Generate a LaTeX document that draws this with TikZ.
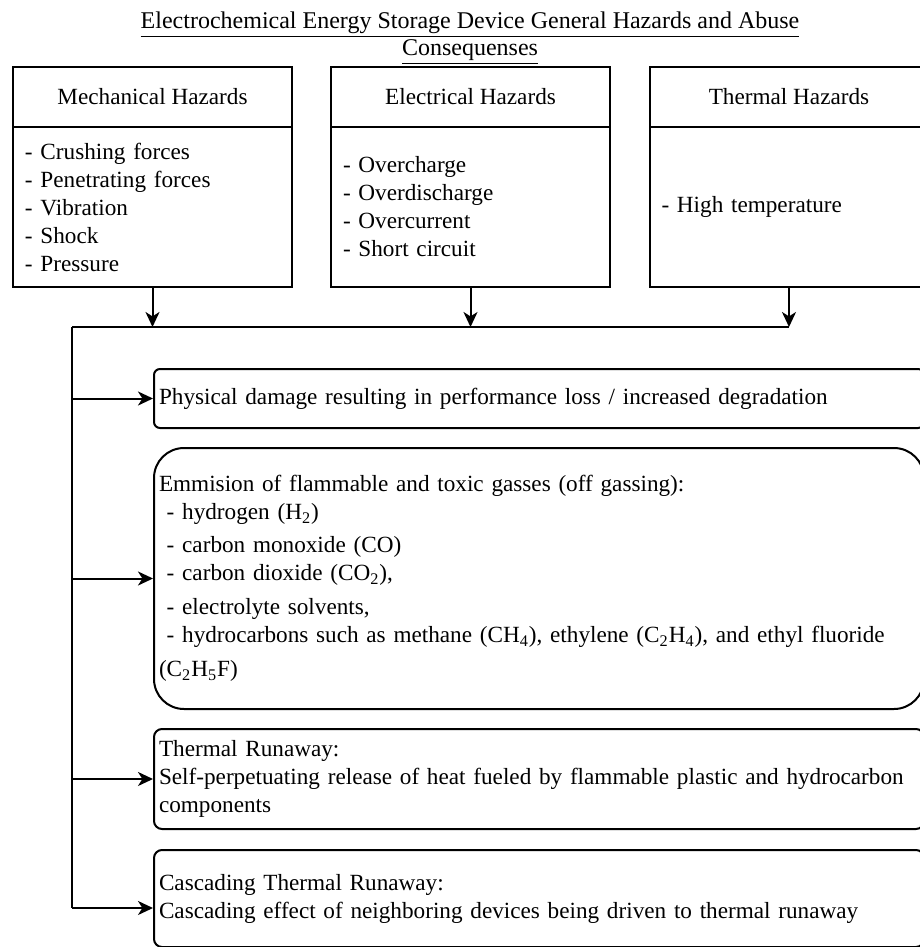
\documentclass[tikz,border=0pt]{standalone}
\usepackage{fontspec}
\setmainfont{Liberation Serif}
\usetikzlibrary{arrows.meta}

\tikzset{
  hazhead/.style={draw, minimum width=139.5pt, minimum height=30pt, inner sep=0pt, outer sep=0pt},
  hazbody/.style={draw, anchor=north, minimum height=80pt, text width=127.5pt, inner xsep=6pt, inner ysep=0pt, outer sep=0pt, align=left},
  conbox/.style={draw, anchor=north west, rounded corners=4pt, text width=380pt, inner xsep=2.5pt, inner ysep=0pt, align=left},
  feed/.style={-{Stealth[length=7.5pt, width=7pt, inset=2.2pt]}}
}

\begin{document}
\begin{tikzpicture}[x=0.5pt, y=-0.5pt, line width=1pt, font=\fontsize{11.6}{14}\selectfont]
      \useasboundingbox (0,0) rectangle (920,947);
      \clip (0,0) rectangle (920,947);

      \node[align=center, font=\fontsize{12}{13.5}\selectfont] (title) at (470,38) {\underline{Electrochemical Energy Storage Device General Hazards and Abuse}\\ \underline{Consequenses}};

      % hazards
      \node[hazhead] (mechhead) at (152.5,97) {Mechanical Hazards};
      \node[hazbody] (mechbody) at (mechhead.south) {- Crushing forces\\ - Penetrating forces\\ - Vibration\\ - Shock\\ - Pressure};

      \node[hazhead] (elechead) at (470.5,97) {Electrical Hazards};
      \node[hazbody] (elecbody) at (elechead.south) {- Overcharge\\ - Overdischarge\\ - Overcurrent\\ - Short circuit};

      \node[hazhead] (thermhead) at (789,97) {Thermal Hazards};
      \node[hazbody] (thermbody) at (thermhead.south) {- High temperature};

      % consequences
      \node[conbox, minimum height=29.5pt, rounded corners=3pt] (damage) at (153,368) {Physical damage resulting in performance loss / increased degradation};

      \node[conbox, minimum height=130.5pt, rounded corners=15pt] (gasses) at (153,447) {Emmision of flammable and toxic gasses (off gassing):\\ \ - hydrogen (H\textsubscript{2})\\[2.5pt] \ - carbon monoxide (CO)\\ \ - carbon dioxide (CO\textsubscript{2}),\\[3pt] \ - electrolyte solvents,\\ \ - hydrocarbons such as methane (CH\textsubscript{4}), ethylene (C\textsubscript{2}H\textsubscript{4}), and ethyl fluoride\\[3pt] (C\textsubscript{2}H\textsubscript{5}F)};

      \node[conbox, minimum height=50pt] (runaway) at (153,728) {Thermal Runaway:\\ Self-perpetuating release of heat fueled by flammable plastic and hydrocarbon\\ components};

      \node[conbox, minimum height=48.5pt] (cascade) at (153,849) {Cascading Thermal Runaway:\\ Cascading effect of neighboring devices being driven to thermal runaway};

      % connectors
      \coordinate (bus) at (72,327);
      \coordinate (cascin) at ([yshift=-4.75pt]cascade.west);

      \draw[feed] (mechbody.south) -- (mechbody.south |- bus);
      \draw[feed] (elecbody.south) -- (elecbody.south |- bus);
      \draw[feed] (thermbody.south) -- (thermbody.south |- bus);
      \draw (bus) -- (thermbody.south |- bus);
      \draw (bus) -- (bus |- cascin);

      \draw[feed] (bus |- damage.west) -- (damage.west);
      \draw[feed] (bus |- gasses.west) -- (gasses.west);
      \draw[feed] (bus |- runaway.west) -- (runaway.west);
      \draw[feed] (bus |- cascin) -- (cascin);
    \end{tikzpicture}
\end{document}
